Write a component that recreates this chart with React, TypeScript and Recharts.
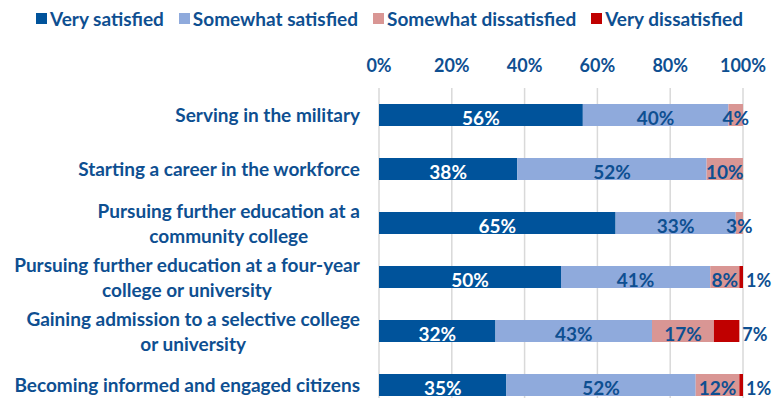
import { BarChart, Bar, XAxis, YAxis, CartesianGrid, Legend, LabelList } from 'recharts';

const categories = [
  'Serving in the military',
  'Starting a career in the workforce',
  'Pursuing further education at a\ncommunity college',
  'Pursuing further education at a four-year\ncollege or university',
  'Gaining admission to a selective college\nor university',
  'Becoming informed and engaged citizens',
];
const verySatisfied = [56, 38, 65, 50, 32, 35];
const somewhatSatisfied = [40, 52, 33, 41, 43, 52];
const somewhatDissatisfied = [4, 10, 3, 8, 17, 12];
const veryDissatisfied = [0, 0, 0, 1, 7, 1];
const xTicks = [0, 20, 40, 60, 80, 100];

const series = [
  { key: 'vs', name: 'Very satisfied', color: '#00539B' },
  { key: 'ss', name: 'Somewhat satisfied', color: '#8FAADC' },
  { key: 'sd', name: 'Somewhat dissatisfied', color: '#D99694' },
  { key: 'vd', name: 'Very dissatisfied', color: '#C00000' },
];

const data = categories.map((name, i) => ({
  name,
  vs: verySatisfied[i],
  ss: somewhatSatisfied[i],
  sd: somewhatDissatisfied[i],
  vd: veryDissatisfied[i],
}));

const TEXT = '#0E4F91';
const FONT = 'Lato, sans-serif';
const SIZE = 19;

let ctx: CanvasRenderingContext2D | null = null;
function measure(s: string, font: string) {
  if (!ctx) ctx = document.createElement('canvas').getContext('2d');
  if (!ctx) return s.length * 9;
  ctx.font = font;
  return ctx.measureText(s).width;
}

function CategoryTick(props: any) {
  const { x, y, payload } = props;
  const lines = String(payload.value).split('\n');
  const right = x - 11;
  const font = `bold ${SIZE}px ${FONT}`;
  if (lines.length === 1) {
    return (
      <text x={right} y={y} dy={7} textAnchor="end" fill={TEXT} fontSize={SIZE} fontWeight="bold" fontFamily={FONT}>
        {lines[0]}
      </text>
    );
  }
  const w = Math.max(...lines.map((l) => measure(l, font)));
  const cx = right - w / 2;
  return (
    <text textAnchor="middle" fill={TEXT} fontSize={SIZE} fontWeight="bold" fontFamily={FONT}>
      {lines.map((l, i) => (
        <tspan key={i} x={cx} y={y + (i - (lines.length - 1) / 2) * 25} dy={7}>
          {l}
        </tspan>
      ))}
    </text>
  );
}

function makeLabel(color: string, outside = false) {
  return (props: any) => {
    const { x, y, width, height, value } = props;
    if (!value) return null;
    const tx = outside ? x + width + 3 : x + width / 2;
    return (
      <text
        x={tx}
        y={y + height / 2 + 10}
        textAnchor={outside ? 'start' : 'middle'}
        fill={color}
        fontSize={outside ? 18 : SIZE}
        fontWeight="bold"
        fontFamily={FONT}
      >
        {value}%
      </text>
    );
  };
}

function LegendContent() {
  return (
    <div
      style={{
        display: 'flex',
        justifyContent: 'center',
        alignItems: 'center',
        height: 36,
        paddingLeft: 22,
        fontFamily: FONT,
        fontWeight: 'bold',
        fontSize: SIZE,
        color: TEXT,
        boxSizing: 'border-box',
      }}
    >
      {series.map((s) => (
        <span key={s.key} style={{ display: 'flex', alignItems: 'center', marginRight: 15 }}>
          <span style={{ width: 11, height: 11, background: s.color, marginRight: 3, display: 'inline-block' }} />
          {s.name}
        </span>
      ))}
    </div>
  );
}

export default function App() {
  return (
    <div style={{ width: 772, height: 398, overflow: 'hidden', background: '#fff' }}>
      <style>{'body{margin:0;overflow:hidden}'}</style>
      <BarChart
        width={772}
        height={414}
        data={data}
        layout="vertical"
        margin={{ top: 0, right: 29, bottom: 2, left: 0 }}
        barSize={22}
      >
        <Legend
          verticalAlign="top"
          content={<LegendContent />}
          wrapperStyle={{ top: 0, left: 0, width: 772, height: 36 }}
        />
        <CartesianGrid horizontal={false} vertical stroke="#D9D9D9" strokeWidth={1.5} />
        <XAxis
          type="number"
          orientation="top"
          domain={[0, 100]}
          ticks={xTicks}
          allowDataOverflow
          height={52}
          axisLine={false}
          tickLine={false}
          tickMargin={10}
          tickFormatter={(v) => `${v}%`}
          tick={{ fill: TEXT, fontSize: 18, fontWeight: 'bold', fontFamily: FONT }}
        />
        <YAxis
          type="category"
          dataKey="name"
          width={379}
          axisLine={false}
          tickLine={false}
          interval={0}
          tick={<CategoryTick />}
        />
        {series.map((s, i) => (
          <Bar key={s.key} dataKey={s.key} name={s.name} stackId="a" fill={s.color} isAnimationActive={false}>
            <LabelList
              dataKey={s.key}
              content={makeLabel(i === 0 ? '#FFFFFF' : TEXT, i === 3)}
            />
          </Bar>
        ))}
      </BarChart>
    </div>
  );
}
